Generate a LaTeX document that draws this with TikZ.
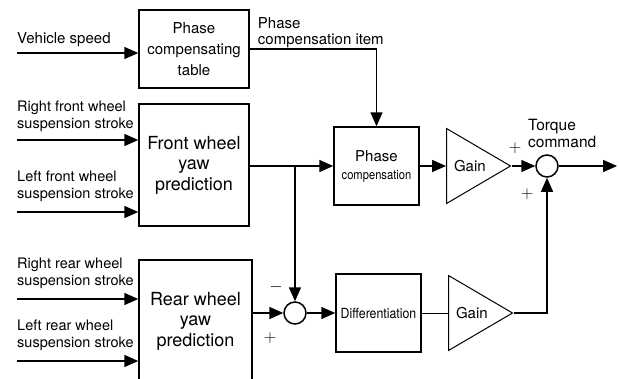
\documentclass[tikz,border=0pt]{standalone}
\usepackage{fontspec}
\setmainfont{TeX Gyre Heros}
\usetikzlibrary{arrows.meta, shapes.geometric}
\tikzset{>={Triangle[length=14pt,width=12pt]}}
\tikzset{
  blk/.style={draw, line width=1.5pt, align=center, inner sep=0pt},
  gain/.style={draw, line width=1pt, isosceles triangle, isosceles triangle stretches,
    minimum width=75pt, minimum height=64pt, inner sep=0pt, anchor=lower side,
    font=\fontsize{15}{18}\selectfont},
  sum/.style={draw, circle, line width=1.5pt, minimum size=22pt, inner sep=0pt},
  lbl/.style={align=left, inner sep=0pt, font=\fontsize{14.5}{17}\selectfont},
  sgn/.style={inner sep=0pt, font=\fontsize{16}{16}\selectfont},
  sig/.style={->, line width=1.5pt},
}

\begin{document}
\begin{tikzpicture}[x=1pt,y=-1pt]
\useasboundingbox (0,0) rectangle (619,378);
\clip (0,0) rectangle (619,378);
% blocks
\node[blk, minimum width=110pt, minimum height=78pt, font=\fontsize{15}{21}\selectfont] (pct) at (194,49) {Phase\\compensating\\table};
\node[blk, minimum width=110pt, minimum height=122pt, font=\fontsize{18}{20.5}\selectfont] (fwy) at (194,165) {Front wheel\\yaw\\prediction};
\node[blk, minimum width=113pt, minimum height=122pt, font=\fontsize{18}{20.5}\selectfont] (rwy) at (195.5,321) {Rear wheel\\yaw\\prediction};
\node[blk, minimum width=85pt, minimum height=78pt, font=\fontsize{15}{18}\selectfont] (pcomp) at (376.5,166) {Phase\\\fontsize{13}{18}\selectfont\scalebox{0.86}[1]{compensation}};
\node[blk, minimum width=85pt, minimum height=78pt, font=\fontsize{14}{18}\selectfont] (diff) at (378.5,313) {\scalebox{0.88}[1]{Differentiation}};
\node[gain] (g1) at (446,166) {Gain};
\node[gain] (g2) at (448,313) {Gain};
\node[sum] (sum1) at (547,166) {};
\node[sum] (sum2) at (295,313) {};

% inputs and output
\coordinate (vs) at (17,53);
\coordinate (rf) at (17,140);
\coordinate (lf) at (17,212);
\coordinate (rr) at (17,299);
\coordinate (lr) at (17,361);
\coordinate (out) at (617,166);

\node[lbl, font=\fontsize{15}{17}\selectfont, anchor=base west] (vsl) at ([yshift=9.7pt]vs) {Vehicle speed};
\node[lbl, anchor=south west] (rfl) at ([yshift=8pt]rf) {Right front wheel\\suspension stroke};
\node[lbl, anchor=south west] (lfl) at ([yshift=10.5pt]lf) {Left front wheel\\suspension stroke};
\node[lbl, anchor=south west] (rrl) at ([yshift=10.5pt]rr) {Right rear wheel\\suspension stroke};
\node[lbl, anchor=south west] (lrl) at ([yshift=10.5pt]lr) {Left rear wheel\\suspension stroke};
\node[lbl, font=\fontsize{15}{16}\selectfont, anchor=south west] (pci) at ([xshift=8pt,yshift=1.5pt]pct.east) {Phase\\compensation item};
\node[lbl, font=\fontsize{15.5}{17}\selectfont, anchor=south west] (tq) at ([xshift=-19pt,yshift=6.5pt]sum1.north) {Torque\\command};

% signs
\node[sgn] (p1) at ([xshift=-32pt,yshift=18pt]sum1.center) {$+$};
\node[sgn] (p2) at ([xshift=-20pt,yshift=-28pt]sum1.center) {$+$};
\node[sgn] (m3) at ([xshift=-19pt,yshift=26pt]sum2.center) {$-$};
\node[sgn] (p4) at ([xshift=-25pt,yshift=-25pt]sum2.center) {$+$};

% connectors
\draw[sig] (vs) -- (vs -| pct.west);
\draw[sig] (rf) -- (rf -| fwy.west);
\draw[sig] (lf) -- (lf -| fwy.west);
\draw[sig] (rr) -- (rr -| rwy.west);
\draw[sig] (lr) -- (lr -| rwy.west);
\draw[sig] (pct.east) -| (pcomp.north);
\draw[sig] (fwy.east |- pcomp.west) -- (pcomp.west);
\draw[sig] (sum2 |- pcomp.west) -- (sum2.north);
\draw[sig] (pcomp.east) -- (g1.lower side);
\draw[sig] (g1.apex) -- (sum1.west);
\draw[sig] (sum1.east) -- (out);
\draw[sig] (rwy.east |- sum2.west) -- (sum2.west);
\draw[sig] (sum2.east) -- (diff.west);
\draw[line width=1pt] (diff.east) -- (g2.lower side);
\draw[sig, line width=1.2pt] (g2.apex) -| (sum1.south);
\end{tikzpicture}
\end{document}
